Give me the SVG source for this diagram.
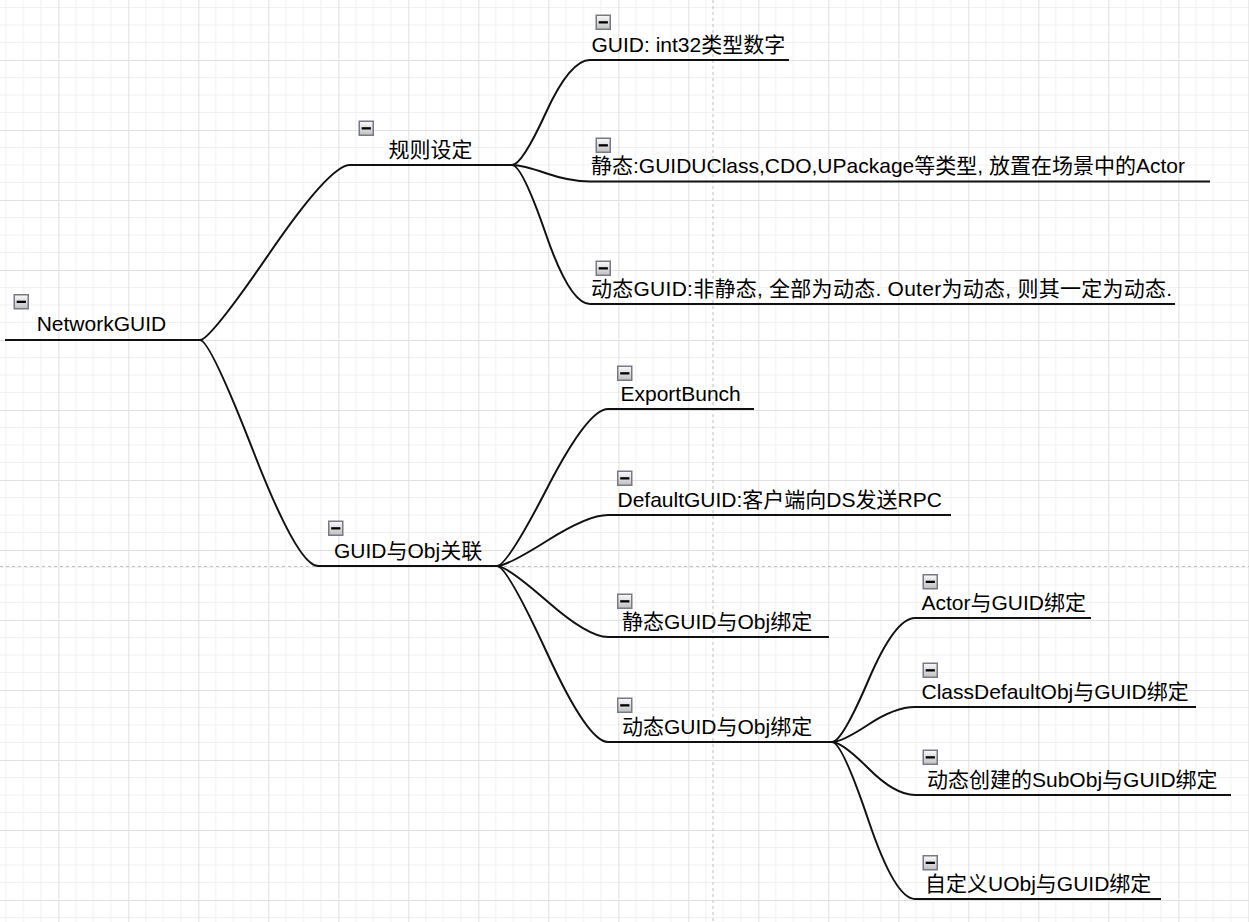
<svg xmlns="http://www.w3.org/2000/svg" width="1249" height="922" viewBox="0 0 1249 922">
<style>
.t{font-family:"Liberation Sans","Noto Sans CJK SC",sans-serif;font-size:21px;fill:#000}
.u{stroke:#111;stroke-width:2;fill:none}
.c{stroke:#111;stroke-width:2;fill:none}
.pb{stroke:#bdbdbd;stroke-width:1;stroke-dasharray:3 3;fill:none}
</style>
<defs>
<pattern id="grid" patternUnits="userSpaceOnUse" x="-11.67" y="-10" width="70" height="70">
<path d="M17.5 0V70M35 0V70M52.5 0V70M0 17.5H70M0 35H70M0 52.5H70" stroke="#f1f1f1" stroke-width="1" fill="none"/>
<path d="M0.5 0V70M0 0.5H70" stroke="#e0e0e0" stroke-width="1" fill="none"/>
</pattern>
<linearGradient id="ig" x1="0" y1="0" x2="0" y2="1">
<stop offset="0" stop-color="#fafafa"/>
<stop offset="1" stop-color="#c0c0c0"/>
</linearGradient>
<g id="icon">
<rect x="0.75" y="0.75" width="14" height="14" fill="url(#ig)" stroke="#767a84" stroke-width="1.5"/>
<rect x="3.2" y="6.7" width="9.2" height="2.3" fill="#000"/>
</g>
</defs>
<rect width="1249" height="922" fill="#fff"/>
<rect width="1249" height="922" fill="url(#grid)"/>
<path class="pb" d="M713 0V922M0 566.5H1249"/>
<g id="connectors">
<path class="c" d="M200 340Q210 340 270 252.5Q330 165 350 165"/>
<path class="c" d="M200 340Q210 340 254 453Q298 566 318 566"/>
<path class="c" d="M512 165Q522 165 546 112.5Q570 60 590 60"/>
<path class="c" d="M512 165Q522 165 546 173.25Q570 181.5 590 181.5"/>
<path class="c" d="M512 165Q522 165 546 234.5Q570 304 590 304"/>
<path class="c" d="M497 566Q507 566 547.5 487.5Q588 409 608 409"/>
<path class="c" d="M497 566Q507 566 547.5 540.5Q588 515 608 515"/>
<path class="c" d="M497 566Q507 566 547.5 601.5Q588 637 608 637"/>
<path class="c" d="M497 566Q507 566 547.5 654Q588 742 608 742"/>
<path class="c" d="M832 742Q842 742 868.5 680Q895 618 915 618"/>
<path class="c" d="M832 742Q842 742 868.5 724.5Q895 707 915 707"/>
<path class="c" d="M832 742Q842 742 868.5 768.5Q895 795 915 795"/>
<path class="c" d="M832 742Q842 742 868.5 820.5Q895 899 915 899"/>
</g>
<g id="n-root">
<line class="u" x1="5" y1="340" x2="200" y2="340"/>
<use href="#icon" x="13.5" y="294"/>
<text class="t" x="36.7" y="331">NetworkGUID</text>
</g>
<g id="n-rules">
<line class="u" x1="350" y1="165" x2="512" y2="165"/>
<use href="#icon" x="358.5" y="120.5"/>
<text class="t" x="388.5" y="156.5">规则设定</text>
</g>
<g id="n-guid-int32">
<line class="u" x1="590" y1="60" x2="789" y2="60"/>
<use href="#icon" x="595.5" y="14.5"/>
<text class="t" x="591.5" y="51.5">GUID: int32类型数字</text>
</g>
<g id="n-static">
<line class="u" x1="590" y1="181.5" x2="1210" y2="181.5"/>
<use href="#icon" x="595.5" y="137.5"/>
<text class="t" x="591" y="173">静态:GUIDUClass,CDO,UPackage等类型, 放置在场景中的Actor</text>
</g>
<g id="n-dynamic">
<line class="u" x1="590" y1="304" x2="1175" y2="304"/>
<use href="#icon" x="595.5" y="260.5"/>
<text class="t" x="591" y="295.5" textLength="581" lengthAdjust="spacing">动态GUID:非静态, 全部为动态. Outer为动态, 则其一定为动态.</text>
</g>
<g id="n-assoc">
<line class="u" x1="318" y1="566" x2="497" y2="566"/>
<use href="#icon" x="328" y="520.5"/>
<text class="t" x="334" y="557.5">GUID与Obj关联</text>
</g>
<g id="n-export">
<line class="u" x1="608" y1="409" x2="754" y2="409"/>
<use href="#icon" x="617" y="365.5"/>
<text class="t" x="620.5" y="400.5">ExportBunch</text>
</g>
<g id="n-default">
<line class="u" x1="608" y1="515" x2="951" y2="515"/>
<use href="#icon" x="617" y="470.5"/>
<text class="t" x="617.5" y="506.5">DefaultGUID:客户端向DS发送RPC</text>
</g>
<g id="n-static-bind">
<line class="u" x1="608" y1="637" x2="829" y2="637"/>
<use href="#icon" x="617" y="593.5"/>
<text class="t" x="622" y="628.5">静态GUID与Obj绑定</text>
</g>
<g id="n-dynamic-bind">
<line class="u" x1="608" y1="742" x2="832" y2="742"/>
<use href="#icon" x="617" y="697.5"/>
<text class="t" x="622" y="733.5">动态GUID与Obj绑定</text>
</g>
<g id="n-actor">
<line class="u" x1="915" y1="618" x2="1091" y2="618"/>
<use href="#icon" x="922.5" y="574"/>
<text class="t" x="921.5" y="609.5">Actor与GUID绑定</text>
</g>
<g id="n-cdo">
<line class="u" x1="915" y1="707" x2="1196" y2="707"/>
<use href="#icon" x="922.5" y="662.5"/>
<text class="t" x="921.5" y="698.5">ClassDefaultObj与GUID绑定</text>
</g>
<g id="n-subobj">
<line class="u" x1="915" y1="795" x2="1231" y2="795"/>
<use href="#icon" x="922.5" y="749.5"/>
<text class="t" x="927" y="786.5">动态创建的SubObj与GUID绑定</text>
</g>
<g id="n-custom">
<line class="u" x1="915" y1="899" x2="1161" y2="899"/>
<use href="#icon" x="922.5" y="855"/>
<text class="t" x="925" y="890.5">自定义UObj与GUID绑定</text>
</g>
</svg>
